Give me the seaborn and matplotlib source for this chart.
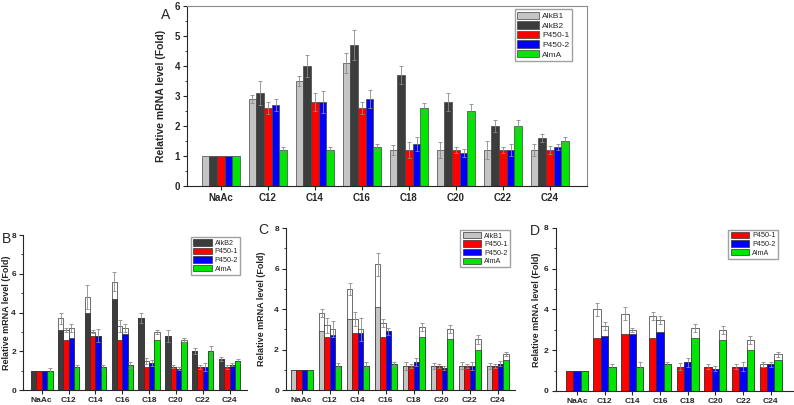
#!/usr/bin/env python3
"""Relative mRNA levels of alkane hydroxylase genes on different substrates."""

import matplotlib
matplotlib.use("Agg")
import matplotlib.pyplot as plt
from matplotlib.ticker import MultipleLocator
import numpy as np
import pandas as pd
import seaborn as sns

SUBSTRATES = ["NaAc", "C12", "C14", "C16", "C18", "C20", "C22", "C24"]

# panel A: wild type, fold change and SD
A_ALKB1 = [1.0, 2.9, 3.5, 4.1, 1.2, 1.2, 1.2, 1.2]
A_ALKB2 = [1.0, 3.1, 4.0, 4.7, 3.7, 2.8, 2.0, 1.6]
A_P4501 = [1.0, 2.6, 2.8, 2.6, 1.2, 1.2, 1.2, 1.2]
A_P4502 = [1.0, 2.7, 2.8, 2.9, 1.4, 1.1, 1.2, 1.3]
A_ALMA = [1.0, 1.2, 1.2, 1.3, 2.6, 2.5, 2.0, 1.5]
A_ALKB1_ERR = [0, 0.12, 0.17, 0.34, 0.17, 0.27, 0.3, 0.2]
A_ALKB2_ERR = [0, 0.4, 0.37, 0.5, 0.3, 0.3, 0.2, 0.13]
A_P4501_ERR = [0, 0.2, 0.3, 0.2, 0.27, 0.1, 0.1, 0.13]
A_P4502_ERR = [0, 0.2, 0.37, 0.3, 0.23, 0.13, 0.2, 0.1]
A_ALMA_ERR = [0, 0.1, 0.1, 0.1, 0.17, 0.22, 0.2, 0.13]

# panels B-D: mutant levels (open bars drawn behind the wild type bars)
B_ALKB2 = [1.0, 3.7, 4.8, 5.6, 3.7, 2.8, 2.0, 1.6]
B_P4501 = [1.0, 3.1, 3.0, 3.3, 1.5, 1.2, 1.2, 1.2]
B_P4502 = [1.0, 3.2, 2.8, 3.2, 1.4, 1.1, 1.2, 1.3]
B_ALMA = [1.0, 1.2, 1.2, 1.3, 3.0, 2.6, 2.0, 1.5]
B_ALKB2_ERR = [0, 0.3, 0.63, 0.48, 0.25, 0.3, 0.15, 0.1]
B_P4501_ERR = [0, 0.12, 0.08, 0.3, 0.15, 0.07, 0.1, 0.1]
B_P4502_ERR = [0, 0.22, 0.33, 0.2, 0.15, 0.07, 0.2, 0.08]
B_ALMA_ERR = [0.12, 0.1, 0.1, 0.14, 0.12, 0.1, 0.28, 0.1]

C_ALKB1 = [1.0, 3.8, 5.0, 6.2, 1.2, 1.2, 1.2, 1.2]
C_P4501 = [1.0, 3.2, 3.5, 3.3, 1.2, 1.2, 1.2, 1.2]
C_P4502 = [1.0, 3.0, 3.0, 2.9, 1.4, 1.1, 1.2, 1.3]
C_ALMA = [1.0, 1.2, 1.2, 1.3, 3.1, 3.0, 2.5, 1.8]
C_ALKB1_ERR = [0, 0.18, 0.3, 0.58, 0.2, 0.15, 0.18, 0.15]
C_P4501_ERR = [0, 0.38, 0.35, 0.2, 0.1, 0.1, 0.1, 0.1]
C_P4502_ERR = [0, 0.4, 0.58, 0.18, 0.2, 0.1, 0.2, 0.12]
C_ALMA_ERR = [0, 0.12, 0.2, 0.1, 0.2, 0.2, 0.22, 0.1]

D_P4501 = [1.0, 4.0, 3.8, 3.7, 1.2, 1.2, 1.2, 1.3]
D_P4502 = [1.0, 3.2, 3.0, 3.5, 1.4, 1.1, 1.2, 1.3]
D_ALMA = [1.0, 1.2, 1.2, 1.3, 3.1, 3.0, 2.5, 1.8]
D_P4501_ERR = [0, 0.3, 0.33, 0.2, 0.18, 0.12, 0.12, 0.1]
D_P4502_ERR = [0, 0.2, 0.1, 0.2, 0.2, 0.12, 0.22, 0.1]
D_ALMA_ERR = [0, 0.13, 0.22, 0.1, 0.2, 0.2, 0.2, 0.12]

COLORS = {
    "AlkB1": "#c4c4c4",
    "AlkB2": "#3c3c3c",
    "P450-1": "#ff0000",
    "P450-2": "#0000ff",
    "AlmA": "#00e600",
}
WILD = {"AlkB1": A_ALKB1, "AlkB2": A_ALKB2, "P450-1": A_P4501,
        "P450-2": A_P4502, "AlmA": A_ALMA}
YLABEL = "Relative mRNA level (Fold)"


def long_frame(series):
    rows = []
    for gene, vals in series.items():
        for sub, v in zip(SUBSTRATES, vals):
            rows.append({"substrate": sub, "gene": gene, "value": v})
    return pd.DataFrame(rows)


def draw_bars(ax, series, width, palette, legend, edge):
    n0 = len(ax.containers)
    sns.barplot(
        data=long_frame(series), x="substrate", y="value", hue="gene",
        order=SUBSTRATES, hue_order=list(series), palette=palette,
        width=width, errorbar=None, saturation=1, edgecolor=edge,
        linewidth=0.5, legend=legend, ax=ax,
    )
    return ax.containers[n0:]


def add_errors(ax, containers, series, errors):
    for cont, vals, errs in zip(containers, series.values(), errors):
        xs = np.array([p.get_x() + p.get_width() / 2 for p in cont])
        vals = np.asarray(vals)
        errs = np.asarray(errs)
        keep = errs > 0
        ax.errorbar(xs[keep], vals[keep], yerr=errs[keep], fmt="none",
                    ecolor="#8a8a8a", elinewidth=0.6, capsize=1.4,
                    capthick=0.6, zorder=5)


def style_axis(ax, ymax, major, minor, fs_tick, fs_label, label_x, xlim):
    ax.set_xlim(*xlim)
    ax.set_ylim(0, ymax)
    ax.yaxis.set_major_locator(MultipleLocator(major))
    ax.yaxis.set_minor_locator(MultipleLocator(minor))
    ax.set_xlabel("")
    ax.set_ylabel(YLABEL, fontsize=fs_label, fontweight="bold")
    ax.yaxis.set_label_coords(label_x, 0.5)
    ax.tick_params(axis="both", which="major", direction="out", length=3,
                   width=0.8, labelsize=fs_tick, pad=2)
    ax.tick_params(axis="y", which="minor", direction="out", length=1.5,
                   width=0.6)
    for lbl in ax.get_xticklabels() + ax.get_yticklabels():
        lbl.set_fontweight("bold")


def restyle_legend(ax, anchor, fs):
    leg = ax.get_legend()
    handles = leg.legend_handles
    labels = [t.get_text() for t in leg.get_texts()]
    ax.legend(handles, labels, loc="upper right", bbox_to_anchor=anchor,
              fontsize=fs, frameon=True, fancybox=False, edgecolor="#a0a0a0",
              framealpha=1, handlelength=2.6, handleheight=1.0,
              labelspacing=0.12, borderpad=0.3, handletextpad=0.4,
              borderaxespad=0)


def mutant_panel(ax, totals, errors, width, anchor, label_x, xlim):
    wild = {g: WILD[g] for g in totals}
    tot_cont = draw_bars(ax, totals, width, {g: "white" for g in totals},
                         False, "#333333")
    draw_bars(ax, wild, width, {g: COLORS[g] for g in totals}, True, "#333333")
    add_errors(ax, tot_cont, totals, errors)
    style_axis(ax, 8, 2, 1, 6, 6.5, label_x, xlim)
    sns.despine(ax=ax)
    restyle_legend(ax, anchor, 5.2)


def main():
    sns.set_style("ticks")
    plt.rcParams["font.family"] = ["Liberation Sans", "DejaVu Sans"]
    plt.rcParams["axes.linewidth"] = 0.8

    fig = plt.figure(figsize=(7.94, 4.05), dpi=100)
    ax_a = fig.add_axes([0.2355, 0.5407, 0.5038, 0.4444])
    ax_b = fig.add_axes([0.029, 0.037, 0.282, 0.3827])
    ax_c = fig.add_axes([0.360, 0.037, 0.288, 0.400])
    ax_d = fig.add_axes([0.700, 0.0346, 0.2985, 0.4025])

    # panel A
    cont = draw_bars(ax_a, WILD, 0.82, COLORS, True, "#444444")
    add_errors(ax_a, cont, WILD,
               [A_ALKB1_ERR, A_ALKB2_ERR, A_P4501_ERR, A_P4502_ERR, A_ALMA_ERR])
    style_axis(ax_a, 6, 1, 0.5, 7, 7.5, -0.052, (-0.72, 7.79))
    for side in ("top", "right"):
        ax_a.spines[side].set_color("#8c8c8c")
    restyle_legend(ax_a, (0.9625, 0.983), 6)

    mutant_panel(
        ax_b,
        {"AlkB2": B_ALKB2, "P450-1": B_P4501, "P450-2": B_P4502, "AlmA": B_ALMA},
        [B_ALKB2_ERR, B_P4501_ERR, B_P4502_ERR, B_ALMA_ERR],
        0.8, (0.97, 0.987), -0.052, (-0.7, 7.65),
    )
    mutant_panel(
        ax_c,
        {"AlkB1": C_ALKB1, "P450-1": C_P4501, "P450-2": C_P4502, "AlmA": C_ALMA},
        [C_ALKB1_ERR, C_P4501_ERR, C_P4502_ERR, C_ALMA_ERR],
        0.78, (0.98, 0.99), -0.087, (-0.57, 7.6),
    )
    mutant_panel(
        ax_d,
        {"P450-1": D_P4501, "P450-2": D_P4502, "AlmA": D_ALMA},
        [D_P4501_ERR, D_P4502_ERR, D_ALMA_ERR],
        0.8, (0.937, 0.99), -0.063, (-0.76, 7.8),
    )

    for letter, x, y in [("A", 0.208, 0.962), ("B", 0.008, 0.41),
                         ("C", 0.331, 0.433), ("D", 0.674, 0.43)]:
        fig.text(x, y, letter, fontsize=10, ha="center", va="center")

    fig.savefig("out.png", dpi=100)
    plt.close(fig)


if __name__ == "__main__":
    main()
